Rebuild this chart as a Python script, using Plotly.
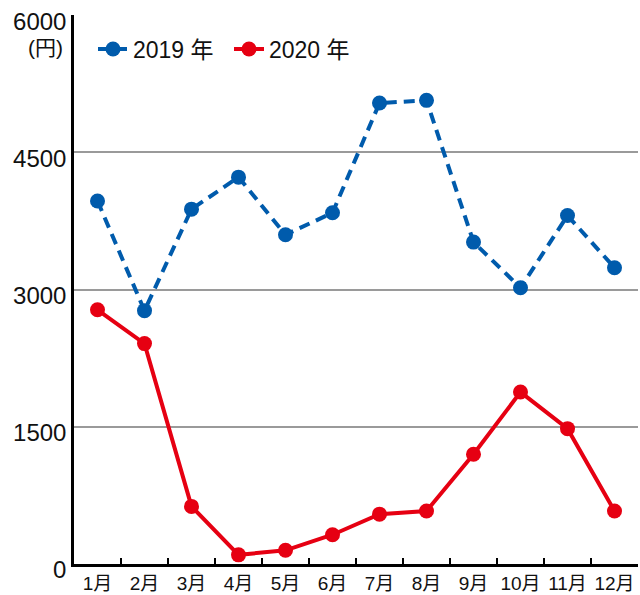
import plotly.graph_objects as go

months = ["1月", "2月", "3月", "4月", "5月", "6月", "7月", "8月", "9月", "10月", "11月", "12月"]
values_2019 = [3970, 2770, 3880, 4230, 3600, 3840, 5040, 5070, 3520, 3020, 3810, 3240]
values_2020 = [2780, 2410, 630, 100, 150, 320, 545, 580, 1200, 1880, 1480, 580]
y_ticks = [0, 1500, 3000, 4500, 6000]
series_names = ["2019 年", "2020 年"]

BLUE = "#005BAC"
RED = "#E60012"
FONT = "Liberation Sans, Arial, Noto Sans CJK JP, sans-serif"

fig = go.Figure()
fig.add_trace(go.Scatter(
    x=months, y=values_2019, name=series_names[0], mode="lines+markers",
    line=dict(color=BLUE, width=4, dash="11px,7px"),
    marker=dict(color=BLUE, size=15),
))
fig.add_trace(go.Scatter(
    x=months, y=values_2020, name=series_names[1], mode="lines+markers",
    line=dict(color=RED, width=4),
    marker=dict(color=RED, size=15),
))

fig.update_layout(
    width=640, height=595,
    margin=dict(l=74, r=2, t=15, b=31, autoexpand=False),
    paper_bgcolor="white", plot_bgcolor="white",
    font=dict(family=FONT, color="#111111"),
    showlegend=True,
    legend=dict(
        orientation="h", xref="container", yref="container",
        x=93 / 640, y=1 - 49 / 595, xanchor="left", yanchor="middle",
        font=dict(size=23, family=FONT, color="#111111"),
        bgcolor="rgba(0,0,0,0)", itemwidth=30,
        entrywidth=91, entrywidthmode="pixels",
    ),
    xaxis=dict(
        type="category", range=[-0.5, 11.5], tickson="boundaries",
        ticks="inside", ticklen=6, tickwidth=2, tickcolor="black",
        showline=True, linecolor="black", linewidth=2.5,
        showgrid=False, zeroline=False, tickangle=0,
        tickfont=dict(size=19, family=FONT, color="#111111"),
    ),
    yaxis=dict(
        range=[0, 6003], tickvals=y_ticks, ticktext=[str(v) for v in y_ticks],
        ticks="", showline=True, linecolor="black", linewidth=2.5,
        showgrid=True, gridcolor="#9a9a9a", gridwidth=1.5, zeroline=False,
        tickfont=dict(size=24, family=FONT, color="#111111"),
        ticklabelstandoff=0, ticklabelshift=6,
    ),
)

fig.add_annotation(
    text="(円)", xref="paper", yref="paper", x=0, y=1,
    xanchor="right", yanchor="middle", xshift=-9, yshift=-32, showarrow=False,
    font=dict(size=21, family=FONT, color="#111111"),
)

fig.write_html("out.html")
